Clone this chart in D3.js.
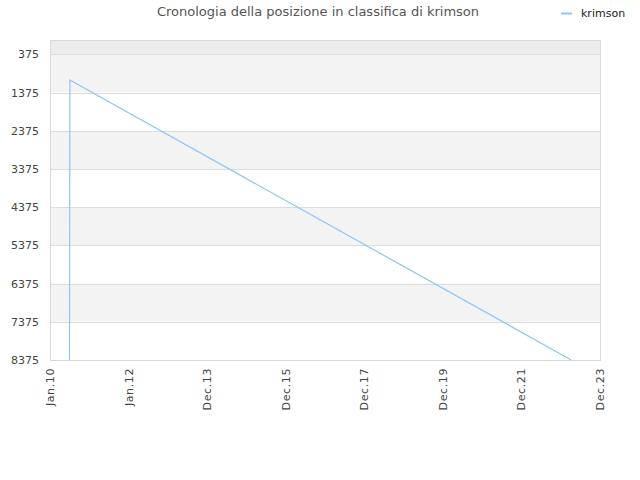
<!DOCTYPE html>
<html>
<head>
<meta charset="utf-8">
<script src="https://cdn.jsdelivr.net/npm/d3@7"></script>
<style>
  body { margin: 0; background: #fff; }
  text { font-family: "DejaVu Sans", sans-serif; }
</style>
</head>
<body>
<div id="chart"></div>
<script>
var title = "Cronologia della posizione in classifica di krimson";
var seriesName = "krimson";
var dates = ["2010-07-04", "2010-07-08", "2023-03-14"];
var ranks = [8375, 1048, 8375];
var yTicks = [375, 1375, 2375, 3375, 4375, 5375, 6375, 7375, 8375];
var xStart = "2010-01-05", xEnd = "2023-12-05";

var W = 640, H = 480;
var plotL = 50, plotR = 600, plotT = 40, plotB = 360;
var parse = d3.timeParse("%Y-%m-%d");

var svg = d3.select("#chart").append("svg")
    .attr("width", W)
    .attr("height", H);

var x = d3.scaleTime()
    .domain([parse(xStart), parse(xEnd)])
    .range([plotL, plotR]);
var y = d3.scaleLinear()
    .domain([1, 8375])
    .range([plotT, plotB]);

// bands between ticks
var edges = [1].concat(yTicks);
for (var i = 0; i < edges.length - 1; i++) {
    var fill = i === 0 ? "#ececec" : (i % 2 === 1 ? "#f3f3f3" : "#ffffff");
    svg.append("rect")
        .attr("x", plotL)
        .attr("y", y(edges[i]))
        .attr("width", plotR - plotL)
        .attr("height", y(edges[i + 1]) - y(edges[i]))
        .attr("fill", fill);
}

// grid lines
svg.selectAll("line.grid").data(yTicks).enter().append("line")
    .attr("class", "grid")
    .attr("x1", plotL).attr("x2", plotR)
    .attr("y1", function(d) { return Math.round(y(d)) + 0.5; })
    .attr("y2", function(d) { return Math.round(y(d)) + 0.5; })
    .attr("stroke", "#dddddd");

// frame
svg.append("rect")
    .attr("x", plotL + 0.5).attr("y", plotT + 0.5)
    .attr("width", plotR - plotL).attr("height", plotB - plotT)
    .attr("fill", "none")
    .attr("stroke", "#d8d8d8");

// y axis labels
svg.selectAll("text.ylab").data(yTicks).enter().append("text")
    .attr("class", "ylab")
    .attr("x", 39)
    .attr("y", function(d) { return y(d) + 4; })
    .attr("text-anchor", "end")
    .attr("font-size", 11)
    .attr("fill", "#444")
    .text(function(d) { return d; });

// x axis labels, evenly spaced across the domain
var d0 = parse(xStart).getTime(), d1 = parse(xEnd).getTime();
var xTicks = d3.range(8).map(function(i) { return new Date(d0 + (d1 - d0) * i / 7); });
var fmt = d3.timeFormat("%b.%y");
svg.selectAll("text.xlab").data(xTicks).enter().append("text")
    .attr("class", "xlab")
    .attr("transform", function(d) { return "translate(" + (x(d) + 4) + "," + 368 + ") rotate(-90)"; })
    .attr("text-anchor", "end")
    .attr("font-size", 11)
    .attr("letter-spacing", 0.6)
    .attr("fill", "#444")
    .text(function(d) { return fmt(d); });

// line
var pts = dates.map(function(d, i) { return { date: parse(d), rank: ranks[i] }; });
var line = d3.line()
    .x(function(d) { return x(d.date); })
    .y(function(d) { return y(d.rank); });
svg.append("path")
    .datum(pts)
    .attr("d", line)
    .attr("fill", "none")
    .attr("stroke", "#8ec4f8")
    .attr("stroke-width", 1.2);

// title
svg.append("text")
    .attr("x", 318).attr("y", 16)
    .attr("text-anchor", "middle")
    .attr("font-size", 13)
    .attr("fill", "#555")
    .text(title);

// legend
svg.append("line")
    .attr("x1", 561).attr("x2", 572)
    .attr("y1", 13.5).attr("y2", 13.5)
    .attr("stroke", "#8ec4f8")
    .attr("stroke-width", 2);
svg.append("text")
    .attr("x", 581).attr("y", 17)
    .attr("font-size", 11)
    .attr("fill", "#222")
    .text(seriesName);
</script>
</body>
</html>
